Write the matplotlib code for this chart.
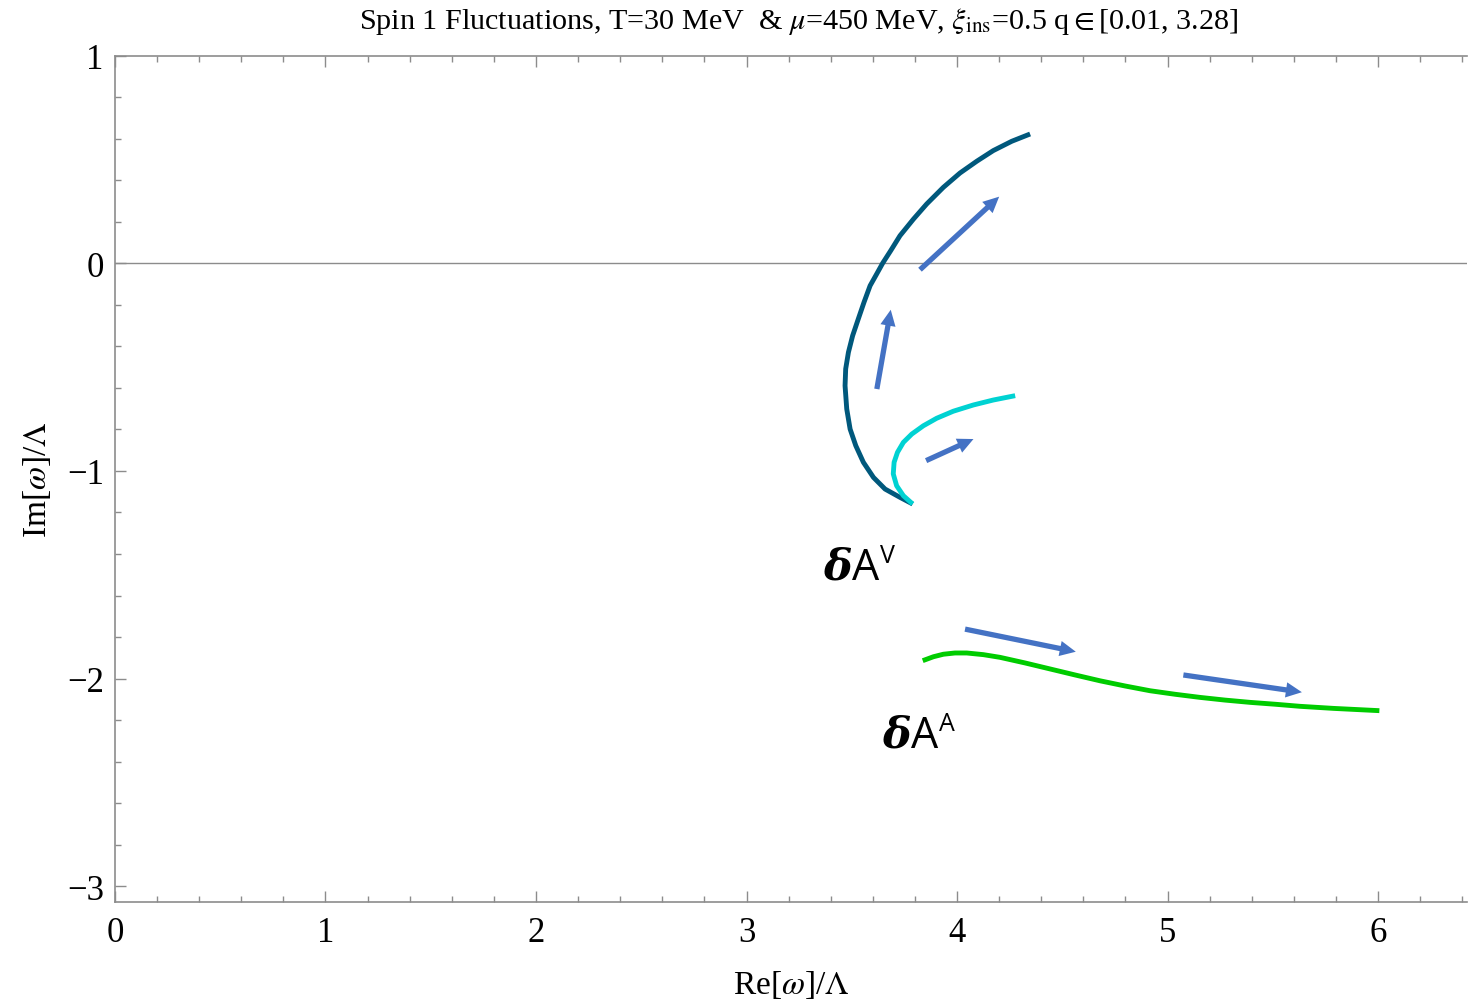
import matplotlib
matplotlib.use('Agg')
import matplotlib.pyplot as plt
from matplotlib.ticker import MultipleLocator
from matplotlib.transforms import offset_copy

plt.rcParams['font.family'] = 'Liberation Serif'
plt.rcParams['mathtext.fontset'] = 'stix'

# Vector mode dA^V (dark branch)
vec_re = [3.789, 3.729, 3.658, 3.603, 3.555, 3.519, 3.492, 3.476, 3.468, 3.471, 3.484, 3.504,
          3.531, 3.558, 3.587, 3.618, 3.647, 3.685, 3.729, 3.793, 3.856, 3.935, 4.014, 4.094,
          4.172, 4.260, 4.347]
vec_im = [-1.159, -1.127, -1.087, -1.031, -0.958, -0.878, -0.798, -0.701, -0.589, -0.508, -0.428, -0.348,
          -0.267, -0.187, -0.107, -0.051, 0.002, 0.062, 0.134, 0.214, 0.287, 0.367, 0.436, 0.493,
          0.544, 0.589, 0.624]

# Vector mode, second branch (cyan)
vec2_re = [3.789, 3.745, 3.713, 3.697, 3.701, 3.717, 3.745, 3.785, 3.840, 3.903, 3.982, 4.077, 4.172, 4.276]
vec2_im = [-1.159, -1.119, -1.071, -1.014, -0.958, -0.910, -0.862, -0.822, -0.782, -0.746, -0.712, -0.682,
           -0.658, -0.637]

# Axial mode dA^A (green)
ax_re = [3.837, 3.888, 3.935, 3.990, 4.046, 4.125, 4.204, 4.323, 4.442, 4.561, 4.679, 4.798,
         4.917, 5.036, 5.154, 5.273, 5.392, 5.511, 5.629, 5.788, 6.006]
ax_im = [-1.914, -1.895, -1.883, -1.877, -1.877, -1.885, -1.898, -1.925, -1.954, -1.983, -2.011, -2.036,
         -2.059, -2.076, -2.091, -2.104, -2.115, -2.124, -2.134, -2.144, -2.155]

# direction arrows (tail, tip)
arrow_tails = [(3.619, -0.605), (3.824, -0.030), (3.853, -0.950), (4.038, -1.762), (5.075, -1.983)]
arrow_tips = [(3.685, -0.223), (4.200, 0.322), (4.078, -0.846), (4.564, -1.871), (5.638, -2.066)]

fig = plt.figure(figsize=(14.68, 10.03), dpi=100)
ax = fig.add_axes([0.0783, 0.0997, 0.9207, 0.8435])

ax.axhline(0, color='#8c8c8c', lw=1.0, zorder=1)

ax.plot(vec_re, vec_im, color='#00587c', lw=3.5, solid_capstyle='butt', solid_joinstyle='round')
ax.plot(vec2_re, vec2_im, color='#00d2d2', lw=3.5, solid_capstyle='butt', solid_joinstyle='round')
ax.plot(ax_re, ax_im, color='#00cc00', lw=3.5, solid_capstyle='butt', solid_joinstyle='round')

for tail, tip in zip(arrow_tails, arrow_tips):
    ax.annotate('', xy=tip, xytext=tail,
                arrowprops=dict(arrowstyle='simple,head_length=1.15,head_width=1.1,tail_width=0.38',
                                mutation_scale=10, color='#4472c4', lw=0,
                                shrinkA=0, shrinkB=0))

# mode labels: bold italic delta + sans A + superscript
def mode_label(x, y, sup):
    ax.text(x, y, 'δ', fontsize=31, fontweight='bold', fontstyle='italic',
            family='DejaVu Serif', ha='right', va='baseline')
    ax.text(x, y, 'A', fontsize=31, family='Open Sans', ha='left', va='baseline')
    tr = offset_copy(ax.transData, fig=fig, x=20, y=12, units='points')
    ax.text(x, y, sup, fontsize=18, family='Open Sans', ha='left', va='baseline',
            transform=tr)

mode_label(3.501, -1.520, 'V')
mode_label(3.781, -2.330, 'A')

ax.set_xlim(0, 6.42)
ax.set_ylim(-3.077, 1.0)
ax.xaxis.set_major_locator(MultipleLocator(1))
ax.xaxis.set_minor_locator(MultipleLocator(0.2))
ax.yaxis.set_major_locator(MultipleLocator(1))
ax.yaxis.set_minor_locator(MultipleLocator(0.2))

for s in ['left', 'bottom', 'top']:
    ax.spines[s].set_color('#8c8c8c')
    ax.spines[s].set_linewidth(1.2)
ax.spines['right'].set_visible(False)

ax.tick_params(which='both', direction='in', color='#8c8c8c', top=True, right=False,
               labelsize=25)
ax.tick_params(axis='x', pad=10)
ax.tick_params(axis='y', pad=8)
ax.tick_params(which='major', length=8, width=1)
ax.tick_params(which='minor', length=4.5, width=1)

ax.set_xlabel(r'Re[$\omega$]/$\Lambda$', fontsize=24, labelpad=14)
ax.set_ylabel(r'Im[$\omega$]/$\Lambda$', fontsize=24, labelpad=10)
fig.text(0.5443, 0.979,
         r'Spin 1 Fluctuations, T=30 MeV  & $\mu$=450 MeV, $\xi_{\rm ins}$=0.5 q$\in$[0.01, 3.28]',
         fontsize=21.7, ha='center', va='center')

fig.savefig('out.png', dpi=100)
